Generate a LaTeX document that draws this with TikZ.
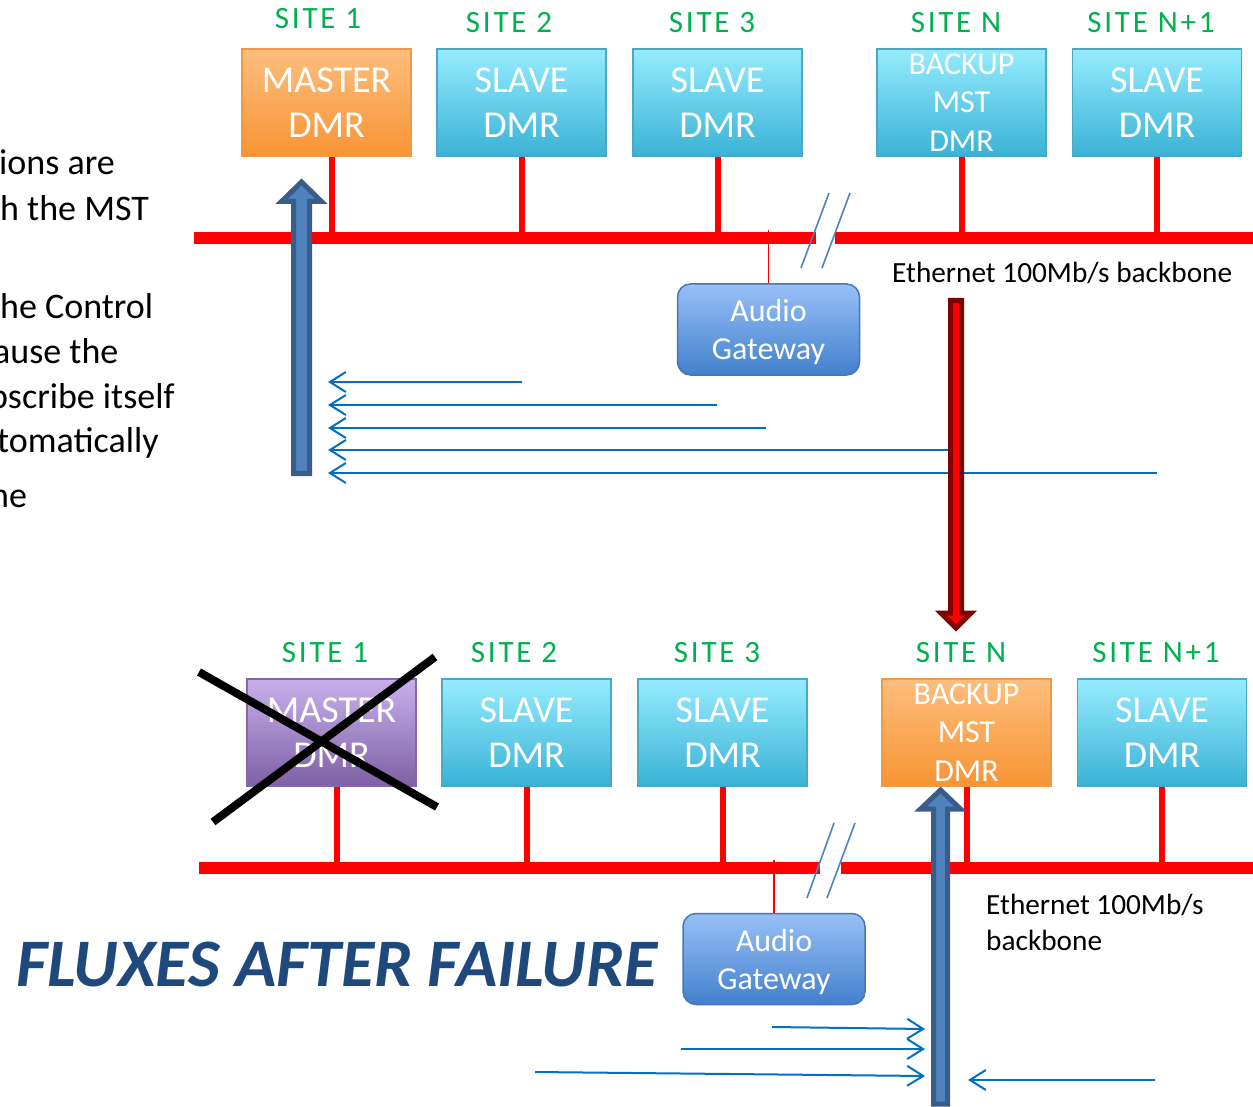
\documentclass[tikz,border=0pt]{standalone}
\usepackage{fontspec}
\setmainfont{Carlito}
\newfontfamily\sitefont[LetterSpace=9]{Carlito}
\usetikzlibrary{arrows.meta}
\definecolor{sitegreen}{RGB}{0,176,80}
\definecolor{msttop}{RGB}{253,190,125}
\definecolor{mstbot}{RGB}{248,148,52}
\definecolor{mstedge}{RGB}{242,150,72}
\definecolor{slvtop}{RGB}{150,236,253}
\definecolor{slvbot}{RGB}{58,178,214}
\definecolor{slvedge}{RGB}{75,168,196}
\definecolor{deadtop}{RGB}{200,176,236}
\definecolor{deadbot}{RGB}{126,96,164}
\definecolor{deadedge}{RGB}{130,104,166}
\definecolor{gwtop}{RGB}{152,192,248}
\definecolor{gwbot}{RGB}{66,128,204}
\definecolor{gwedge}{RGB}{72,118,180}
\definecolor{bigfill}{RGB}{79,129,189}
\definecolor{bigedge}{RGB}{56,93,138}
\definecolor{fluxblue}{RGB}{0,112,192}
\definecolor{brkblue}{RGB}{79,129,189}
\definecolor{ttlblue}{RGB}{31,73,125}
\definecolor{darkred}{RGB}{128,0,0}

\begin{document}
\begin{tikzpicture}[x=1pt,y=-1pt,
  site/.style={text=sitegreen,font=\sitefont\fontsize{31}{37}\selectfont,inner sep=0pt},
  dmr/.style={rectangle,line width=1.5pt,minimum width=169pt,minimum height=107pt,
              text=white,align=center,inner sep=0pt,text depth=-4pt,
              font=\fontsize{38}{45}\selectfont},
  master/.style={dmr,top color=msttop,bottom color=mstbot,draw=mstedge},
  slave/.style={dmr,top color=slvtop,bottom color=slvbot,draw=slvedge},
  dead/.style={dmr,top color=deadtop,bottom color=deadbot,draw=deadedge},
  backup/.style={font=\fontsize{32}{38.5}\selectfont},
  gw/.style={rectangle,rounded corners=13pt,line width=1.5pt,top color=gwtop,bottom color=gwbot,
             draw=gwedge,minimum width=182pt,minimum height=91pt,text=white,align=center,
             inner sep=0pt,text depth=-2pt,font=\fontsize{32}{38}\selectfont},
  eth/.style={font=\fontsize{29.3}{36}\selectfont,inner sep=0pt,align=left},
  note/.style={font=\fontsize{36}{45}\selectfont,inner sep=0pt,anchor=base west},
  bus/.style={red,line width=12pt},
  drop/.style={red,line width=6pt},
  tap/.style={red,line width=1.5pt},
  brk/.style={brkblue,line width=1.6pt},
  flux/.style={fluxblue,line width=2pt,-{Straight Barb[length=16pt,width=20pt]}},
  bigup/.style={fill=bigfill,draw=bigedge,line width=5pt,line join=miter},
  bigdown/.style={fill=red,draw=darkred,line width=5pt,line join=miter},
  cross/.style={black,line width=8pt}]

  \useasboundingbox (0,0) rectangle (1253,1107);

  % text cut by the slide edge
  \node[note] (l1) at (-1,175) {ions are};
  \node[note] (l2) at (0,221) {h the MST};
  \node[note] (l3) at (0,319) {he Control};
  \node[note] (l4) at (-7,363) {ause the};
  \node[note] (l5) at (-11,408) {bscribe itself};
  \node[note] (l6) at (-3,452) {tomatically};
  \node[note] (l7) at (-10,507) {ne};

  % ---- before failure ----
  \node[site] (t1)  at (318,19)  {SITE 1};
  \node[site] (t2)  at (509,23)  {SITE 2};
  \node[site] (t3)  at (712,23)  {SITE 3};
  \node[site] (tN)  at (956,23)  {SITE N};
  \node[site] (tN1) at (1151,23) {SITE N+1};

  \node[master] (M1)  at (326.5,102.5) {MASTER\\DMR};
  \node[slave]  (S2)  at (521.5,102.5) {SLAVE\\DMR};
  \node[slave]  (S3)  at (717.5,102.5) {SLAVE\\DMR};
  \node[slave,backup] (BN) at (961.5,102.5) {BACKUP\\MST\\DMR};
  \node[slave]  (SN1) at (1157,102.5)  {SLAVE\\DMR};

  \coordinate (busL) at (194,238);  \coordinate (gapL) at (816,238);
  \coordinate (gapR) at (835,238);  \coordinate (busR) at (1253,238);
  \draw[bus] (busL) -- (gapL); \draw[bus] (gapR) -- (busR);

  \draw[drop] ([xshift=5pt]M1.south) -- ++(0,82);
  \draw[drop] (S2.south) -- (S2.south |- busL);
  \draw[drop] (S3.south) -- (S3.south |- busL);
  \draw[drop] (BN.south) -- (BN.south |- busL);
  \draw[drop] (SN1.south) -- (SN1.south |- busL);

  \node[gw] (AG) at (768.5,329.5) {Audio\\Gateway};
  \draw[tap] (AG.north) -- ++(0,-53);

  \draw[brk] (829,193) -- (801,268);
  \draw[brk] (850,193) -- (822,268);

  \node[eth,anchor=base west] (eth1) at (892,283) {Ethernet 100Mb/s backbone};

  \draw[bigup] (293.5,473.5) -- (293.5,201.5) -- (281.5,201.5) -- (301.5,182)
    -- (321.5,201.5) -- (309.5,201.5) -- (309.5,473.5) -- cycle;

  \draw[flux] (522,382) -- (328,382);
  \draw[flux] (717,405) -- (328,405);
  \draw[flux] (766,428) -- (328,428);
  \draw[flux] (962,450) -- (328,450);
  \draw[flux] (1157,473) -- (328,473);

  \draw[bigdown] (950.5,300.5) -- (961.5,300.5) -- (961.5,613) -- (971,613)
    -- (956,628) -- (941,613) -- (950.5,613) -- cycle;

  % ---- after failure ----
  \node[site] (b1)  at (325,653)  {SITE 1};
  \node[site] (b2)  at (514,653)  {SITE 2};
  \node[site] (b3)  at (717,653)  {SITE 3};
  \node[site] (bN)  at (961,653)  {SITE N};
  \node[site] (bN1) at (1156,653) {SITE N+1};

  \node[dead]   (F1)   at (331.5,732.5) {MASTER\\DMR};
  \node[slave]  (S2b)  at (526.5,732.5) {SLAVE\\DMR};
  \node[slave]  (S3b)  at (722.5,732.5) {SLAVE\\DMR};
  \node[master,backup] (BNb) at (966.5,732.5) {BACKUP\\MST\\DMR};
  \node[slave]  (SN1b) at (1162,732.5)  {SLAVE\\DMR};

  \coordinate (bbusL) at (199,868); \coordinate (bgapL) at (820,868);
  \coordinate (bgapR) at (841,868); \coordinate (bbusR) at (1253,868);
  \draw[bus] (bbusL) -- (bgapL); \draw[bus] (bgapR) -- (bbusR);

  \draw[drop] ([xshift=5.5pt]F1.south) -- ++(0,82);
  \draw[drop] (S2b.south) -- (S2b.south |- bbusL);
  \draw[drop] (S3b.south) -- (S3b.south |- bbusL);
  \draw[drop] (BNb.south) -- (BNb.south |- bbusL);
  \draw[drop] (SN1b.south) -- (SN1b.south |- bbusL);

  \draw[cross] (199,672) -- (437,807);
  \draw[cross] (435,657) -- (213,822);

  \node[gw] (AGb) at (774,959) {Audio\\Gateway};
  \draw[tap] (AGb.north) -- ++(0,-53);

  \draw[brk] (834,823) -- (807,898);
  \draw[brk] (855,823) -- (827,898);

  \node[eth,anchor=north west] (eth2) at (986,894) {Ethernet 100Mb/s\\backbone};

  \node[font=\fontsize{68}{72}\selectfont\bfseries\itshape,text=ttlblue,inner sep=0pt,
        anchor=base west] (ttl) at (16,986) {FLUXES AFTER FAILURE};

  \draw[bigup] (933.5,1104) -- (933.5,809) -- (920.5,809) -- (940.5,790)
    -- (960.5,809) -- (947.5,809) -- (947.5,1104) -- cycle;

  \draw[flux] (772,1027) -- (925,1029);
  \draw[flux] (681,1049) -- (925,1049);
  \draw[flux] (535,1072) -- (925,1076);
  \draw[flux] (1155,1080) -- (968,1080);
\end{tikzpicture}
\end{document}
